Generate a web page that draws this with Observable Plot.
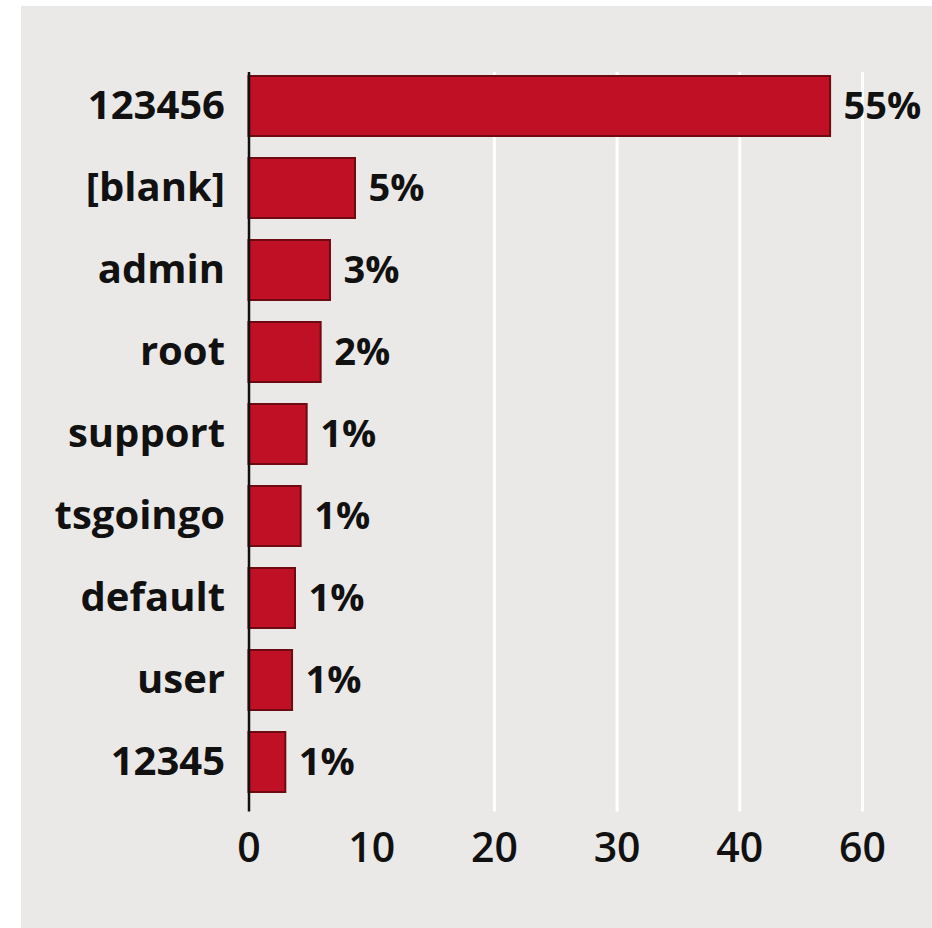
<!DOCTYPE html>
<html><head><meta charset="utf-8">
<script src="https://cdn.jsdelivr.net/npm/d3@7"></script>
<script src="https://cdn.jsdelivr.net/npm/@observablehq/plot@0.6"></script>
<style>
html,body{margin:0;padding:0;background:#fff;}
#wrap{position:relative;width:932px;height:928px;overflow:hidden;}
#panel{position:absolute;left:21px;top:6px;width:911px;height:922px;background:#ebe9e7;}
#chart{position:absolute;left:0;top:0;}
</style></head><body>
<div id="wrap"><div id="panel"></div><div id="chart"></div></div>
<script>
const categories = ["123456","[blank]","admin","root","support","tsgoingo","default","user","12345"];
const barLengths = [47.4, 8.68, 6.64, 5.88, 4.74, 4.25, 3.79, 3.55, 3.0];
const valueLabels = ["55%","5%","3%","2%","1%","1%","1%","1%","1%"];
const tickValues = [0,10,20,30,40,50];
const tickLabels = ["0","10","20","30","40","60"];
const gridValues = [20,30,40,50];

const data = categories.map((c,i)=>({name:c, value:barLengths[i], label:valueLabels[i]}));

const chart = Plot.plot({
  width: 932, height: 928,
  marginLeft: 248.5, marginRight: 70, marginTop: 61, marginBottom: 120.5,
  style: {background:"transparent", fontFamily:"'Open Sans', sans-serif", color:"#111", overflow:"visible"},
  x: {domain:[0,50]},
  y: {domain: categories, paddingInner: 0.265, paddingOuter: 0.1325},
  marks: [
    Plot.ruleX(gridValues, {stroke:"#fff", strokeWidth:3, insetTop: 11, insetBottom: -4}),
    Plot.barX(data, {x:"value", y:"name", fill:"#c01025", stroke:"#6e0a12", strokeWidth:2}),
    Plot.ruleX([0], {stroke:"#111", strokeWidth:2.5, insetTop: 11, insetBottom: -4}),
    Plot.text(data, {x:"value", y:"name", text:"label", textAnchor:"start", dx:13, fontSize:38, fontWeight:700, fill:"#111"}),
    Plot.axisY({tickSize:0, tickPadding:24, fontSize:40, fontWeight:700, label:null, fill:"#111"}),
    Plot.axisX({ticks: tickValues, tickFormat:(d)=>tickLabels[tickValues.indexOf(d)], tickSize:0, tickPadding:25, label:null, fontSize:41, fontWeight:600, fill:"#111"})
  ]
});
document.getElementById("chart").appendChild(chart);
</script>
</body></html>
